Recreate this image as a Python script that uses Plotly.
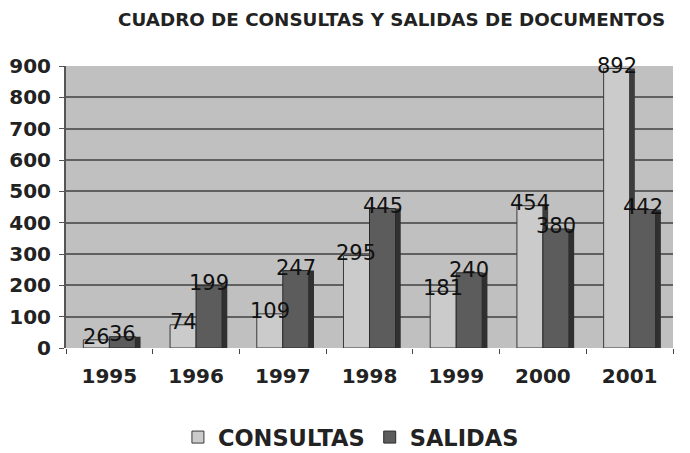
import plotly.graph_objects as go

years = ["1995", "1996", "1997", "1998", "1999", "2000", "2001"]
consultas = [26, 74, 109, 295, 181, 454, 892]
salidas = [36, 199, 247, 445, 240, 380, 442]
y_ticks = [0, 100, 200, 300, 400, 500, 600, 700, 800, 900]

W = 0.3      # bar width (category units)
D = 0.06     # 3D side depth

fig = go.Figure()
# side faces (3D look)
fig.add_trace(go.Bar(x=years, y=consultas, offset=-W + D, width=W, showlegend=False,
                     hoverinfo="skip", marker=dict(color="#3c3c3c", line=dict(width=0))))
fig.add_trace(go.Bar(x=years, y=consultas, name="CONSULTAS", offset=-W, width=W,
                     marker=dict(color="#cbcbcb", line=dict(color="#3a3a3a", width=1))))
fig.add_trace(go.Bar(x=years, y=salidas, offset=D, width=W, showlegend=False,
                     hoverinfo="skip", marker=dict(color="#303030", line=dict(width=0))))
fig.add_trace(go.Bar(x=years, y=salidas, name="SALIDAS", offset=0, width=W,
                     marker=dict(color="#5c5c5c", line=dict(color="#2a2a2a", width=1))))

lab_font = dict(family="DejaVu Sans", size=21, color="#111111")
for i in range(len(years)):
    fig.add_annotation(x=i - W / 2, y=consultas[i], text=str(consultas[i]), showarrow=False,
                       yshift=3, font=lab_font)
    fig.add_annotation(x=i + W / 2, y=salidas[i], text=str(salidas[i]), showarrow=False,
                       yshift=3, font=lab_font)

fig.update_layout(
    width=690, height=453,
    margin=dict(l=58, r=25, t=58, b=113, autoexpand=False),
    paper_bgcolor="white", plot_bgcolor="#c0c0c0",
    barmode="overlay",
    title=dict(text="<b>CUADRO DE CONSULTAS Y SALIDAS DE DOCUMENTOS</b>",
               x=0.556, xanchor="center", y=0.975, yanchor="middle",
               font=dict(family="DejaVu Sans", size=18.3, color="#222222")),
    legend=dict(orientation="h", x=0.497, xanchor="center", xref="container",
                y=0.052, yanchor="middle", yref="container",
                font=dict(family="DejaVu Sans", size=22.5, color="#222222", weight="bold"),
                itemwidth=30, traceorder="normal"),
    showlegend=True,
)
fig.update_xaxes(type="category", range=[-0.5, 6.5], showline=False, ticks="outside", ticklen=5,
                 tickson="boundaries", tickcolor="#444", ticklabelstandoff=14,
                 tickfont=dict(family="DejaVu Sans", size=20, color="#222222", weight="bold"))
fig.update_yaxes(range=[0, 900], tickvals=y_ticks, showline=True, linecolor="#555", linewidth=2,
                 ticks="outside", ticklen=5, tickcolor="#555", ticklabelstandoff=4,
                 gridcolor="#606060", gridwidth=2, zeroline=False,
                 tickfont=dict(family="DejaVu Sans", size=20, color="#222222", weight="bold"))

fig.write_html("out.html")
